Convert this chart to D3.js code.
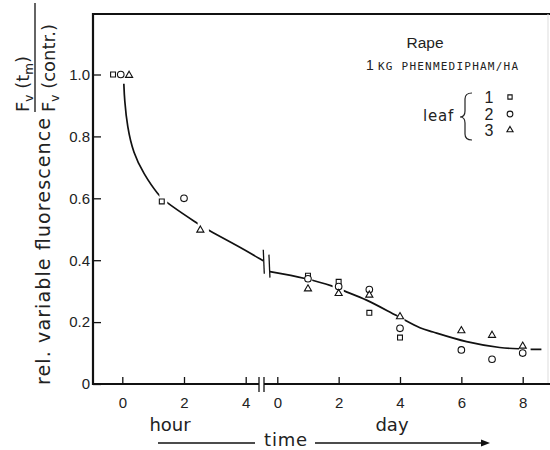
<!DOCTYPE html>
<meta charset="utf-8">
<style>
  body { margin: 0; background: #fff; }
  svg { display: block; font-family: "DejaVu Sans", sans-serif; }
  .tick text { font-family: "Liberation Sans", sans-serif; font-size: 15px; fill: #222; }
  .tick line { stroke: #111; stroke-width: 1.3; }
</style>
<body>
<div id="chart"></div>
<script src="https://d3js.org/d3.v7.min.js"></script>
<script>
  const width = 550, height = 450;

  // measured values, [time, Fv(tm)/Fv(contr.)]
  const leaf1Hour = [[-0.3, 1.0], [1.28, 0.59]];
  const leaf2Hour = [[-0.05, 1.0], [2.0, 0.60]];
  const leaf3Hour = [[0.22, 1.0], [2.53, 0.50]];
  const leaf1Day = [[1, 0.35], [2, 0.33], [3, 0.23], [4, 0.15]];
  const leaf2Day = [[1, 0.34], [2, 0.315], [3, 0.305], [4, 0.18], [6, 0.11], [7, 0.08], [8, 0.10]];
  const leaf3Day = [[1, 0.31], [2, 0.295], [3, 0.29], [4, 0.22], [6, 0.175], [7, 0.16], [8, 0.125]];

  // fitted curve
  const hourCurve = [[0.05, 0.97], [0.07, 0.92], [0.16, 0.831], [0.36, 0.745], [0.68, 0.681],
                     [1.17, 0.609], [1.49, 0.582], [2.41, 0.52], [2.84, 0.494], [3.82, 0.442], [4.57, 0.398]];
  const dayCurve = [[-0.24, 0.363], [0.9, 0.341], [1.77, 0.317], [2.2, 0.30],
                    [2.91, 0.271], [3.89, 0.221], [4.65, 0.182], [5.08, 0.168],
                    [6.17, 0.137], [7.25, 0.118], [8.29, 0.112], [8.61, 0.112]];
  // places where the curve is interrupted next to the symbols
  const hourGaps = [[1.17, 1.49], [2.41, 2.84]];
  const dayGaps = [[0.9, 1.17], [1.77, 2.2], [3.89, 4.18], [7.85, 8.29]];

  const yTicks = [0, 0.2, 0.4, 0.6, 0.8, 1.0];
  const hourTicks = [0, 2, 4];
  const dayTicks = [0, 2, 4, 6, 8];
  const legendLabels = ["1", "2", "3"];

  const svg = d3.select("#chart").append("svg")
    .attr("width", width).attr("height", height);

  const plotLeft = 93, plotTop = 14, plotBottom = 384, plotRight = 548;
  const y = d3.scaleLinear().domain([0, 1]).range([plotBottom, 74.5]);
  const xHour = d3.scaleLinear().domain([0, 4]).range([122.3, 245.7]);
  const xDay = d3.scaleLinear().domain([0, 8]).range([277.3, 522.7]);
  const breakL = 259, breakR = 264;

  // frame
  svg.append("line").attr("x1", plotLeft).attr("x2", width).attr("y1", plotTop).attr("y2", plotTop)
    .attr("stroke", "#111").attr("stroke-width", 2.2);
  svg.append("line").attr("x1", plotRight).attr("x2", plotRight).attr("y1", plotTop).attr("y2", plotBottom)
    .attr("stroke", "#ddd").attr("stroke-width", 1);
  svg.append("line").attr("x1", plotLeft).attr("x2", plotLeft).attr("y1", plotTop - 1).attr("y2", plotBottom + 1)
    .attr("stroke", "#111").attr("stroke-width", 2.2);
  svg.append("line").attr("x1", plotLeft).attr("x2", breakL).attr("y1", plotBottom).attr("y2", plotBottom)
    .attr("stroke", "#111").attr("stroke-width", 2.2);
  svg.append("line").attr("x1", breakR).attr("x2", width).attr("y1", plotBottom).attr("y2", plotBottom)
    .attr("stroke", "#111").attr("stroke-width", 2.2);
  [breakL, breakR].forEach(bx => {
    svg.append("line").attr("x1", bx).attr("x2", bx).attr("y1", plotBottom - 7).attr("y2", plotBottom + 8)
      .attr("stroke", "#111").attr("stroke-width", 1.3);
  });

  // axes
  const yAxis = d3.axisLeft(y).tickValues(yTicks).tickSize(-8).tickPadding(3)
    .tickFormat(d => d === 0 ? "0" : d3.format(".1f")(d));
  svg.append("g").attr("transform", `translate(${plotLeft},0)`).call(yAxis)
    .call(g => g.select(".domain").remove());

  const hourAxis = d3.axisBottom(xHour).tickValues(hourTicks).tickSize(-7).tickPadding(13).tickFormat(d3.format("d"));
  svg.append("g").attr("transform", `translate(0,${plotBottom})`).call(hourAxis)
    .call(g => g.select(".domain").remove());
  const dayAxis = d3.axisBottom(xDay).tickValues(dayTicks).tickSize(-7).tickPadding(13).tickFormat(d3.format("d"));
  svg.append("g").attr("transform", `translate(0,${plotBottom})`).call(dayAxis)
    .call(g => g.select(".domain").remove());

  // curve, with gaps cut out by a mask
  const mask = svg.append("defs").append("mask").attr("id", "gaps");
  mask.append("rect").attr("width", width).attr("height", height).attr("fill", "#fff");
  hourGaps.forEach(([a, b]) => mask.append("rect")
    .attr("x", xHour(a) + 1).attr("width", xHour(b) - xHour(a) - 2).attr("y", 0).attr("height", height).attr("fill", "#000"));
  dayGaps.forEach(([a, b]) => mask.append("rect")
    .attr("x", xDay(a) + 1).attr("width", xDay(b) - xDay(a) - 2).attr("y", 0).attr("height", height).attr("fill", "#000"));

  const curveG = svg.append("g").attr("mask", "url(#gaps)")
    .attr("fill", "none").attr("stroke", "#111").attr("stroke-width", 1.7);
  curveG.append("path").attr("d", d3.line().x(d => xHour(d[0])).y(d => y(d[1])).curve(d3.curveBasis)(hourCurve));
  curveG.append("path").attr("d", d3.line().x(d => xDay(d[0])).y(d => y(d[1])).curve(d3.curveCatmullRom.alpha(0.5))(dayCurve));

  // break marks on the curve
  const hEnd = hourCurve[hourCurve.length - 1], dStart = dayCurve[0];
  svg.append("line").attr("x1", xHour(hEnd[0])).attr("x2", xHour(hEnd[0]) + 1)
    .attr("y1", y(hEnd[1]) - 11).attr("y2", y(hEnd[1]) + 13).attr("stroke", "#111").attr("stroke-width", 1.3);
  svg.append("line").attr("x1", xDay(dStart[0]) - 1).attr("x2", xDay(dStart[0]))
    .attr("y1", y(dStart[1]) - 17).attr("y2", y(dStart[1]) + 6).attr("stroke", "#111").attr("stroke-width", 1.3);

  // symbols
  const shapes = [d3.symbolSquare, d3.symbolCircle, d3.symbolTriangle];
  const sizes = [24, 34, 22];
  const series = [
    { hour: leaf1Hour, day: leaf1Day },
    { hour: leaf2Hour, day: leaf2Day },
    { hour: leaf3Hour, day: leaf3Day }
  ];
  series.forEach((s, i) => {
    const sym = d3.symbol().type(shapes[i]).size(sizes[i]);
    const pts = s.hour.map(d => [xHour(d[0]), y(d[1])]).concat(s.day.map(d => [xDay(d[0]), y(d[1])]));
    svg.append("g").selectAll("path").data(pts).join("path")
      .attr("transform", d => `translate(${d[0]},${d[1] + (i === 2 ? 0.8 : 0)})`)
      .attr("d", sym).attr("fill", "#fff").attr("stroke", "#111").attr("stroke-width", 1.1);
  });

  // title block
  svg.append("text").attr("x", 425).attr("y", 48).attr("text-anchor", "middle")
    .style("font-family", "Liberation Sans, sans-serif").style("font-size", "15.5px").attr("fill", "#222").text("Rape");
  const sub = svg.append("text").attr("x", 366).attr("y", 70).attr("fill", "#222");
  sub.append("tspan").style("font-family", "Liberation Sans, sans-serif").style("font-size", "14px").text("1");
  sub.append("tspan").attr("x", 378).style("font-family", "DejaVu Sans Mono, monospace").style("font-size", "11px")
    .attr("textLength", 140).attr("lengthAdjust", "spacing").text("KG PHENMEDIPHAM/HA");

  // legend
  svg.append("text").attr("x", 423).attr("y", 121).style("font-size", "15px").style("letter-spacing", "0.8px")
    .attr("fill", "#222").text("leaf");
  svg.append("path").attr("d", "M472,93 Q465,93 465,99 L465,111 Q465,117 460,117 Q465,117 465,123 L465,134 Q465,140 472,140")
    .attr("fill", "none").attr("stroke", "#222").attr("stroke-width", 1.2);
  const legendY = [97, 114, 130];
  legendLabels.forEach((t, i) => {
    svg.append("text").attr("x", 489).attr("y", legendY[i] + 6).attr("text-anchor", "middle")
      .style("font-family", "Liberation Sans, sans-serif").style("font-size", "16px").attr("fill", "#222").text(t);
    svg.append("path").attr("transform", `translate(510,${legendY[i]})`)
      .attr("d", d3.symbol().type(shapes[i]).size(sizes[i] * 0.75)).attr("fill", "#fff")
      .attr("stroke", "#111").attr("stroke-width", 1.1);
  });

  // y title
  svg.append("text").attr("transform", "translate(50,385) rotate(-90)")
    .style("font-size", "19px").attr("fill", "#222")
    .attr("textLength", 267).attr("lengthAdjust", "spacing")
    .text("rel. variable fluorescence");
  const num = svg.append("text").attr("transform", "translate(29,112) rotate(-90)")
    .style("font-size", "18px").attr("fill", "#222");
  num.append("tspan").text("F");
  num.append("tspan").attr("dy", 4).style("font-size", "12px").text("v");
  num.append("tspan").attr("dy", -4).text(" (t");
  num.append("tspan").attr("dy", 4).style("font-size", "12px").text("m");
  num.append("tspan").attr("dy", -4).text(")");
  svg.append("line").attr("x1", 35).attr("x2", 35).attr("y1", 3).attr("y2", 112)
    .attr("stroke", "#111").attr("stroke-width", 1.3);
  const den = svg.append("text").attr("transform", "translate(55,112) rotate(-90)")
    .style("font-size", "18px").attr("fill", "#222");
  den.append("tspan").text("F");
  den.append("tspan").attr("dy", 4).style("font-size", "12px").text("v");
  den.append("tspan").attr("dy", -4).text(" (contr.)");

  // x labels
  svg.append("text").attr("x", 170).attr("y", 431).attr("text-anchor", "middle")
    .style("font-size", "18px").attr("fill", "#222").text("hour");
  svg.append("text").attr("x", 392).attr("y", 431).attr("text-anchor", "middle")
    .style("font-size", "18px").attr("fill", "#222").text("day");
  svg.append("text").attr("x", 286).attr("y", 446).attr("text-anchor", "middle")
    .style("font-size", "18px").style("letter-spacing", "0.8px").attr("fill", "#222").text("time");
  svg.append("line").attr("x1", 158).attr("x2", 255).attr("y1", 443).attr("y2", 443)
    .attr("stroke", "#111").attr("stroke-width", 1.4);
  svg.append("line").attr("x1", 315).attr("x2", 484).attr("y1", 443).attr("y2", 443)
    .attr("stroke", "#111").attr("stroke-width", 1.4);
  svg.append("path").attr("d", "M490,443 L481,439.5 L481,446.5 Z").attr("fill", "#111");
</script>
</body>
